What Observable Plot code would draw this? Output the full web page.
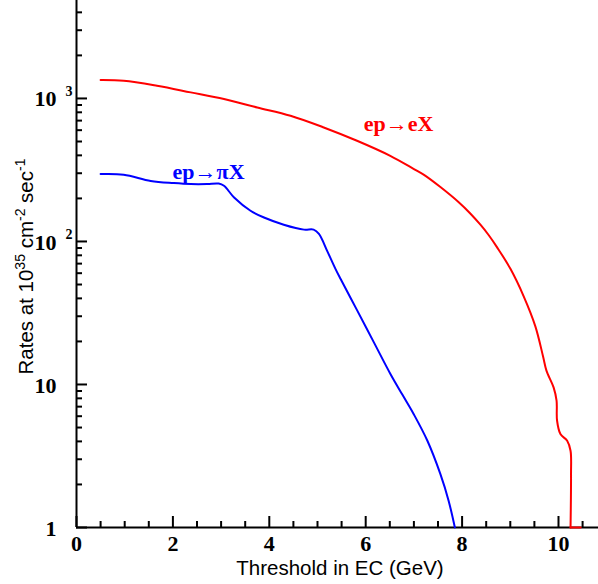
<!DOCTYPE html>
<html><head><meta charset="utf-8">
<script src="https://cdn.jsdelivr.net/npm/d3@7"></script>
<script src="https://cdn.jsdelivr.net/npm/@observablehq/plot@0.6"></script>
<style>body{margin:0;background:#fff}</style>
</head><body><div id="chart"></div>
<script>
// ep -> eX rates (red)
const eXx = [0.50, 0.98, 1.67, 2.37, 3.06, 3.75, 4.44, 5.13, 5.82, 6.51, 7.00, 7.21, 7.55, 7.93, 8.17, 8.38, 8.55, 8.73, 9.00, 9.28, 9.52, 9.68, 9.75, 9.90, 9.96, 9.97, 10.04, 10.18, 10.25, 10.26, 10.25];
const eXy = [1345, 1330, 1227, 1103, 990, 865, 757, 627, 506, 397, 321, 292, 240, 188, 157, 131, 111, 90.6, 64.6, 41.2, 25.5, 15.7, 12.5, 9.5, 7.7, 5.6, 4.5, 4.04, 3.44, 2.36, 1];
// red segment running along the axis floor after the drop
const eXFloorX = [10.25, 10.46];
const eXFloorY = [1, 1];
// ep -> piX rates (blue)
const piXx = [0.50, 0.98, 1.54, 2.02, 2.37, 2.71, 2.95, 3.06, 3.27, 3.61, 3.89, 4.30, 4.72, 4.92, 5.03, 5.20, 5.37, 5.48, 5.82, 6.17, 6.51, 6.76, 7.00, 7.28, 7.55, 7.72, 7.85];
const piXy = [296, 293, 265, 256, 252, 252, 254, 245, 203, 164, 147, 131, 121, 121, 113, 86, 64.6, 54.6, 33.1, 19.7, 11.9, 8.5, 6.17, 4.04, 2.36, 1.54, 1];

const xMajorTicks = [0, 2, 4, 6, 8, 10];
const xMinorTicks = [0.5, 1, 1.5, 2.5, 3, 3.5, 4.5, 5, 5.5, 6.5, 7, 7.5, 8.5, 9, 9.5, 10.5];
const yMajorTicks = [1, 10, 100, 1000];
const yMajorMantissa = ["1", "10", "10", "10"];
const yExpTicks = [100, 1000];
const yExpLabels = ["2", "3"];
const yMinorTicks = [2,3,4,5,6,7,8,9,20,30,40,50,60,70,80,90,200,300,400,500,600,700,800,900,2000,3000,4000];

const seriesNames = ["ep\u2192eX", "ep\u2192\u03c0X"];
const seriesColors = ["#ff0000", "#0000ff"];
const seriesLabelX = [6.68, 2.74];
const seriesLabelY = [665, 304];

const xTitle = "Threshold in EC (GeV)";

const red = eXx.map((x, i) => ({x, y: eXy[i]}));
const redFloor = eXFloorX.map((x, i) => ({x, y: eXFloorY[i]}));
const blue = piXx.map((x, i) => ({x, y: piXy[i]}));
const labels = seriesNames.map((t, i) => ({t, x: seriesLabelX[i], y: seriesLabelY[i], c: seriesColors[i]}));

const W = 598, H = 584, ML = 76, MB = 57;
const serif = "'Liberation Serif', 'Times New Roman', serif";
const sans = "'Liberation Sans', Arial, sans-serif";

const svg = Plot.plot({
  width: W, height: H,
  marginLeft: ML, marginRight: 0, marginTop: 0, marginBottom: MB,
  x: {domain: [0, 10.83], axis: null},
  y: {type: "log", domain: [1, 4840], axis: null},
  style: {background: "white", overflow: "visible"},
  marks: [
    Plot.ruleX([0], {stroke: "black", strokeWidth: 2}),
    Plot.ruleY([1], {stroke: "black", strokeWidth: 2}),
    Plot.tickY(yMajorTicks, {y: d => d, insetRight: (W - ML) - 11, stroke: "black", strokeWidth: 2}),
    Plot.tickY(yMinorTicks, {y: d => d, insetRight: (W - ML) - 6, stroke: "black", strokeWidth: 2}),
    Plot.tickX(xMajorTicks, {x: d => d, insetTop: (H - MB) - 11, stroke: "black", strokeWidth: 2}),
    Plot.tickX(xMinorTicks, {x: d => d, insetTop: (H - MB) - 6, stroke: "black", strokeWidth: 2}),
    Plot.text(xMajorTicks, {x: d => d, y: () => 1, text: d => String(d), dy: 16, fontFamily: serif, fontWeight: "bold", fontSize: 22, fill: "black"}),
    Plot.text(yMajorTicks, {x: () => 0, y: d => d, text: (d, i) => yMajorMantissa[i], dx: -20, dy: 1, textAnchor: "end", fontFamily: serif, fontWeight: "bold", fontSize: 22, fill: "black"}),
    Plot.text(yExpTicks, {x: () => 0, y: d => d, text: (d, i) => yExpLabels[i], dx: -11, dy: -7, textAnchor: "start", fontFamily: serif, fontWeight: "bold", fontSize: 14, fill: "black"}),
    Plot.line(red, {x: "x", y: "y", stroke: seriesColors[0], strokeWidth: 2, curve: "catmull-rom"}),
    Plot.line(redFloor, {x: "x", y: "y", stroke: seriesColors[0], strokeWidth: 2}),
    Plot.line(blue, {x: "x", y: "y", stroke: seriesColors[1], strokeWidth: 2, curve: "catmull-rom"}),
    Plot.text(labels, {x: "x", y: "y", text: "t", fill: "c", fontFamily: serif, fontWeight: "bold", fontSize: 22})
  ]
});

const s = d3.select(svg);
s.append("text")
  .attr("x", 340).attr("y", 575)
  .attr("text-anchor", "middle")
  .attr("font-family", sans).attr("font-size", 20.5).attr("fill", "black")
  .text(xTitle);

const yt = s.append("text")
  .attr("transform", "translate(33,266.5) rotate(-90)")
  .attr("text-anchor", "middle")
  .attr("font-family", sans).attr("font-size", 20.5).attr("fill", "black");
const parts = [["Rates at 10", false], ["35", true], [" cm", false], ["-2", true], [" sec", false], ["-1", true]];
let raised = false;
for (const [t, sup] of parts) {
  const ts = yt.append("tspan").text(t);
  if (sup && !raised) { ts.attr("dy", -8).attr("font-size", 14); raised = true; }
  else if (sup) { ts.attr("font-size", 14); }
  else if (raised) { ts.attr("dy", 8); raised = false; }
}

document.getElementById("chart").appendChild(svg);
</script>
</body></html>
